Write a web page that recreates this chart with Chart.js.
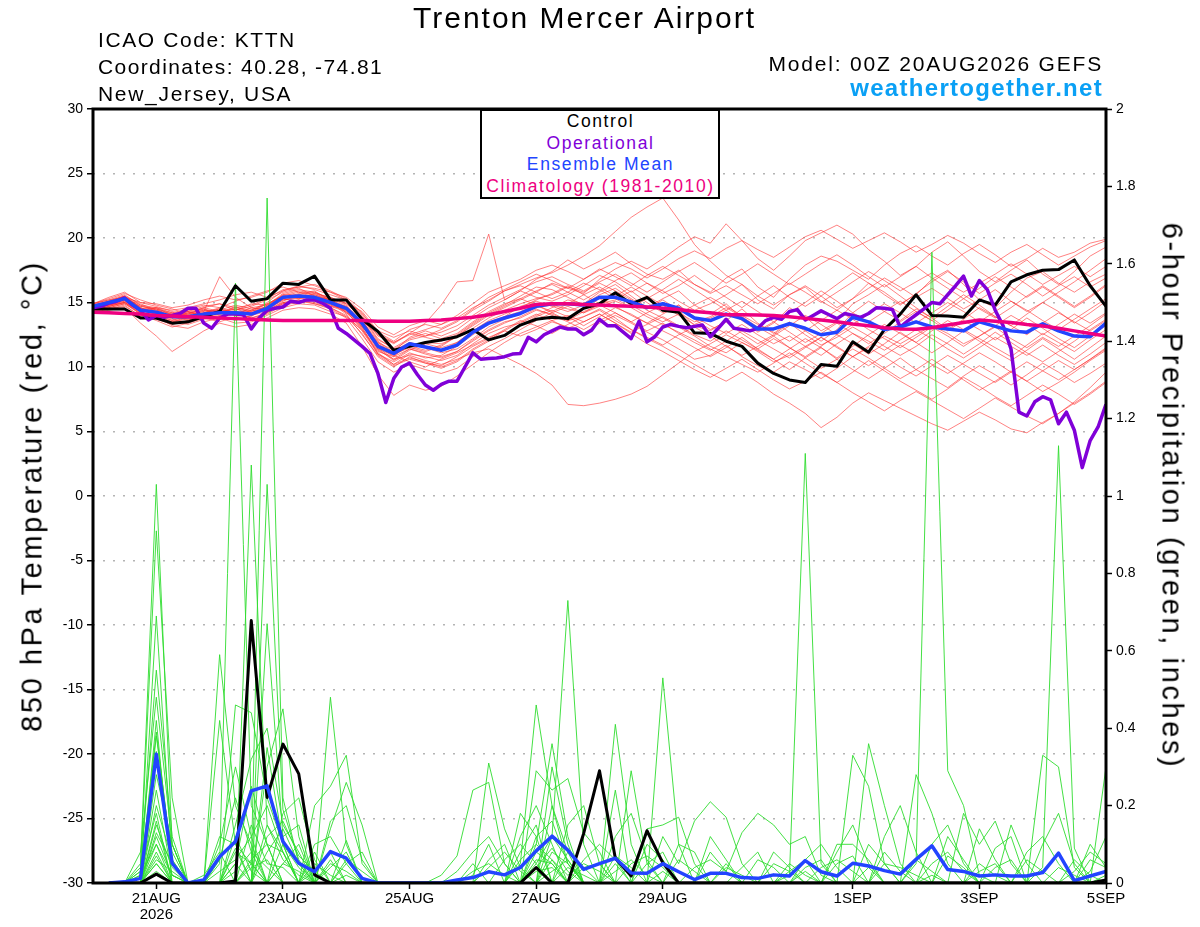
<!DOCTYPE html>
<html>
<head>
<meta charset="utf-8">
<title>Trenton Mercer Airport - GEFS plume</title>
<script src="https://cdn.jsdelivr.net/npm/chart.js@4.4.1/dist/chart.umd.min.js"></script>
<style>
  html, body { margin: 0; padding: 0; background: #fff; }
  body { position: relative; width: 1200px; height: 927px; overflow: hidden; color: #000;
         font-family: "Liberation Sans", Arial, Helvetica, sans-serif; }
  #plumeChart { position: absolute; left: 0; top: 0; }
  .txt { position: absolute; white-space: nowrap; line-height: 1; }
  .legend-box { position: absolute; left: 480px; top: 109px; width: 240px; height: 90px; box-sizing: border-box;
                border: 2px solid #000; background: #fff; text-align: center; font-size: 17.5px;
                letter-spacing: 1.6px; line-height: 21.7px; padding-left: 1px; }
  .axis-title { position: absolute; white-space: nowrap; font-size: 29px; line-height: 29px; letter-spacing: 2.6px; }
</style>
</head>
<body>
<canvas id="plumeChart" width="1200" height="927"></canvas>

<div class="txt" style="left:413px;top:3px;font-size:30px;letter-spacing:2px">Trenton Mercer Airport</div>
<div class="txt" style="left:98px;top:29px;font-size:21px;letter-spacing:1.6px">ICAO Code: KTTN</div>
<div class="txt" style="left:98px;top:56px;font-size:21px;letter-spacing:1.4px">Coordinates: 40.28, -74.81</div>
<div class="txt" style="left:98px;top:83px;font-size:21px;letter-spacing:1.7px">New_Jersey, USA</div>
<div class="txt" style="right:97px;top:53px;font-size:21px;letter-spacing:1.8px">Model: 00Z 20AUG2026 GEFS</div>
<div class="txt" style="right:97px;top:76px;font-size:24px;font-weight:bold;letter-spacing:1.3px;color:#0aa0f5">weathertogether.net</div>

<div class="legend-box">
  <div style="color:#000">Control</div>
  <div style="color:#8000d8">Operational</div>
  <div style="color:#2244ff">Ensemble Mean</div>
  <div style="color:#ee0080">Climatology (1981-2010)</div>
</div>

<div class="axis-title" style="left:32px;top:496px;transform:translate(-50%,-50%) rotate(-90deg)">850 hPa Temperature (red, °C)</div>
<div class="axis-title" style="left:1172px;top:496px;transform:translate(-50%,-50%) rotate(90deg)">6-hour Precipitation (green, inches)</div>

<script>
// x axis: hours since 00Z 20AUG2026, ticks every 2 days (no 31AUG label)
var xTickHours = [24, 72, 120, 168, 216, 288, 336, 384];
var xTickLabels = [["21AUG", "2026"], "23AUG", "25AUG", "27AUG", "29AUG", "1SEP", "3SEP", "5SEP"];

// 850 hPa temperature (C), 6-hourly
var tempControl = [
  14.5, 14.5, 14.5, 13.8, 13.8, 13.4, 13.5, 13.9, 14.3, 16.3, 15.1, 15.3, 16.5,
  16.4, 17.05, 15.2, 15.2, 13.7, 12.75, 11.3, 11.6, 11.9, 12.1, 12.35, 12.9, 12.1,
  12.45, 13.25, 13.7, 13.85, 13.75, 14.55, 14.9, 15.75, 14.9, 15.4, 14.4, 14.25, 12.65,
  12.6, 12.0, 11.6, 10.3, 9.5, 9.0, 8.8, 10.2, 10.05, 11.95, 11.15, 12.9, 14.1,
  15.6, 14.0, 13.95, 13.85, 15.2, 14.8, 16.6, 17.15, 17.5, 17.55, 18.3, 16.3, 14.7
];
var tempMean = [
  14.7, 15.0, 15.3, 14.4, 14.25, 13.9, 13.9, 14.1, 14.2, 14.2, 14.1, 14.55, 15.4,
  15.5, 15.4, 15.0, 14.55, 13.4, 11.6, 11.05, 11.8, 11.55, 11.3, 11.7, 12.7, 13.4,
  13.8, 14.15, 14.7, 14.9, 14.9, 14.8, 15.4, 15.4, 15.05, 14.6, 14.9, 14.55, 13.8,
  13.6, 14.1, 13.75, 12.95, 12.95, 13.35, 13.0, 12.5, 12.7, 13.85, 13.5, 12.9, 13.1,
  13.5, 13.1, 12.95, 12.8, 13.5, 13.15, 12.8, 12.7, 13.35, 12.8, 12.4, 12.35, 13.4
];
var tempClimo = [
  14.25, 14.2, 14.15, 14.1, 14.0, 13.95, 13.9, 13.85, 13.8, 13.75, 13.7, 13.65, 13.6,
  13.6, 13.6, 13.6, 13.6, 13.6, 13.55, 13.55, 13.55, 13.6, 13.65, 13.75, 13.85, 14.05,
  14.3, 14.55, 14.85, 14.9, 14.9, 14.85, 14.8, 14.75, 14.7, 14.65, 14.55, 14.45, 14.3,
  14.2, 14.05, 14.05, 14.03, 14.0, 13.9, 13.77, 13.65, 13.5, 13.33, 13.2, 13.05, 12.95,
  12.92, 13.05, 13.25, 13.45, 13.64, 13.55, 13.45, 13.3, 13.18, 13.0, 12.8, 12.6, 12.4
];
// operational run is 3-hourly
var tempOperational = [
  14.6, 14.7, 14.95, 15.1, 15.35, 14.8, 14.4, 13.65, 14.0, 13.85,
  14.0, 14.15, 14.55, 14.55, 13.4, 13.0, 13.8, 14.1, 14.1, 14.05,
  12.95, 13.8, 14.4, 14.55, 14.65, 15.1, 15.0, 15.2, 15.2, 14.95,
  14.55, 13.0, 12.6, 12.1, 11.6, 11.05, 9.5, 7.25, 9.1, 10.0,
  10.3, 9.4, 8.6, 8.2, 8.65, 8.9, 8.9, 10.0, 11.1, 10.6,
  10.65, 10.7, 10.8, 11.0, 11.05, 12.3, 11.95, 12.5, 12.8, 13.1,
  12.95, 12.95, 12.5, 12.85, 13.7, 13.2, 13.2, 12.7, 12.2, 13.55,
  11.95, 12.35, 13.1, 13.3, 13.15, 13.05, 13.15, 13.25, 12.35, 13.0,
  13.7, 13.0, 12.9, 12.8, 13.0, 13.6, 13.85, 13.7, 14.3, 14.45,
  13.65, 14.0, 14.35, 14.05, 13.75, 14.15, 14.0, 13.85, 14.15, 14.6,
  14.55, 14.45, 13.1, 13.6, 14.05, 14.5, 15.0, 14.9, 15.6, 16.3,
  17.05, 15.5, 16.7, 16.0, 14.4, 13.2, 11.4, 6.5, 6.2, 7.3,
  7.7, 7.45, 5.6, 6.5, 5.1, 2.2, 4.3, 5.35, 7.1
];

// ensemble members, temperature
var tempMember01 = [
  14.9, 15.2, 15.6, 14.8, 14.6, 14.2, 14.5, 14.8, 14.6, 15.1, 15.5, 15.9, 16.2,
  15.8, 15.6, 15.1, 14.2, 13.6, 12.5, 11.8, 12.6, 13.4, 14.8, 16.6, 16.7, 20.3,
  15.2, 15.9, 16.8, 17.4, 18.3, 17.6, 18.2, 18.9, 18.0, 17.2, 16.8, 17.5, 16.4,
  15.8, 16.9, 17.6, 16.2, 15.4, 16.8, 17.9, 18.6, 18.2, 17.5, 16.8, 17.9, 18.8,
  19.4, 18.6, 17.9, 18.8, 19.5, 18.7, 17.8, 18.4, 19.2, 18.5, 18.9, 19.6, 19.9
];
var tempMember02 = [
  14.5, 14.9, 15.4, 14.6, 14.1, 14.0, 13.6, 14.2, 14.5, 14.0, 13.9, 14.8, 15.6,
  15.9, 15.7, 15.4, 14.9, 13.9, 12.2, 11.4, 12.1, 12.4, 12.9, 13.5, 14.4, 15.1,
  15.9, 16.4, 16.9, 17.3, 17.9, 18.6, 19.4, 20.5, 21.6, 22.4, 23.1, 21.4, 19.5,
  18.2, 17.1, 16.4, 15.2, 14.5, 15.6, 16.2, 15.1, 14.4, 15.3, 16.5, 15.8, 14.9,
  15.6, 16.8, 17.5, 16.4, 15.2, 14.6, 15.8, 16.9, 17.4, 16.5, 15.8, 16.6, 17.2
];
var tempMember03 = [
  14.6, 14.8, 15.1, 14.3, 14.5, 13.8, 14.1, 14.6, 14.9, 14.4, 14.7, 15.2, 15.8,
  16.1, 15.5, 15.2, 14.6, 13.1, 11.9, 11.0, 11.5, 11.2, 11.6, 12.4, 13.2, 14.0,
  14.6, 15.2, 15.8, 16.5, 16.1, 15.7, 16.8, 17.6, 18.2, 17.6, 18.4, 19.3, 20.1,
  19.6, 21.1, 19.8, 18.4, 17.5, 18.6, 19.8, 20.4, 21.0, 20.3, 19.1, 18.2, 17.1,
  17.8, 18.9, 19.7, 18.6, 17.4, 16.6, 17.5, 18.3, 17.2, 16.4, 17.4, 18.6, 19.3
];
var tempMember04 = [
  14.3, 14.6, 14.9, 14.1, 13.6, 13.1, 13.4, 13.8, 13.5, 13.9, 14.2, 14.4, 15.0,
  15.1, 15.3, 14.8, 14.5, 13.2, 11.5, 10.6, 10.9, 10.5, 10.2, 10.6, 11.1, 11.4,
  10.8, 10.2, 9.5, 8.6, 7.1, 7.0, 7.2, 7.5, 7.9, 8.5, 9.4, 10.3, 11.2,
  11.8, 12.5, 11.9, 11.2, 10.4, 10.9, 11.6, 12.3, 11.5, 10.8, 11.6, 12.4, 11.8,
  12.5, 13.2, 12.6, 11.8, 12.4, 13.1, 12.2, 11.5, 12.3, 11.6, 12.4, 13.2, 14.1
];
var tempMember05 = [
  14.8, 15.1, 15.5, 14.6, 14.2, 13.7, 13.5, 13.9, 14.1, 14.3, 14.0, 14.3, 15.1,
  15.6, 15.8, 15.3, 14.8, 13.3, 11.4, 10.5, 11.3, 11.8, 11.5, 11.9, 12.8, 13.5,
  13.9, 14.3, 14.8, 14.2, 13.6, 13.9, 14.5, 13.8, 12.9, 12.2, 11.6, 10.9, 10.2,
  9.5, 8.9, 9.6, 8.8, 7.9, 7.2, 6.4, 5.3, 6.1, 7.2, 8.0, 7.4, 6.8,
  6.2, 5.6, 5.1, 5.8, 6.5, 5.9, 5.2, 4.9, 5.7, 6.4, 7.3, 8.4, 9.6
];
var tempMember06 = [
  14.9, 15.4, 15.8, 15.0, 14.7, 14.3, 14.0, 14.4, 14.2, 14.6, 14.4, 15.0, 15.9,
  16.3, 16.0, 15.6, 15.2, 14.0, 12.4, 11.9, 12.6, 12.3, 12.0, 12.5, 13.4, 14.2,
  14.8, 15.5, 16.2, 16.0, 15.4, 14.8, 15.6, 16.1, 15.3, 14.5, 15.2, 14.4, 13.2,
  12.8, 13.6, 14.5, 13.4, 12.6, 13.5, 12.8, 12.0, 12.9, 14.2, 15.1, 14.3, 13.6,
  14.5, 13.8, 12.9, 13.7, 14.6, 13.9, 13.2, 12.5, 13.4, 14.2, 13.5, 12.8, 13.6
];
var tempMember07 = [
  14.4, 14.7, 15.0, 14.2, 14.0, 13.5, 13.8, 14.0, 13.7, 13.8, 13.6, 14.2, 14.9,
  15.2, 15.0, 14.6, 14.0, 12.8, 11.0, 10.2, 11.0, 10.8, 10.5, 10.9, 11.8, 12.6,
  13.1, 13.4, 14.0, 14.6, 15.2, 14.9, 15.8, 16.4, 15.5, 14.6, 15.3, 15.9, 14.8,
  14.1, 14.9, 13.8, 12.7, 13.4, 14.6, 13.9, 12.8, 13.5, 14.9, 15.6, 16.4, 15.5,
  14.6, 13.8, 14.7, 15.6, 14.8, 13.9, 13.2, 14.1, 15.0, 14.3, 13.4, 14.2, 15.1
];
var tempMember08 = [
  14.6, 14.9, 15.2, 14.5, 14.4, 14.1, 14.3, 13.9, 14.4, 14.8, 14.5, 14.6, 15.3,
  15.7, 15.9, 15.1, 14.3, 12.9, 11.2, 10.8, 11.9, 11.5, 11.1, 11.4, 12.2, 13.1,
  13.7, 14.1, 14.6, 14.8, 14.5, 14.2, 14.9, 15.2, 15.9, 15.0, 14.2, 14.8, 13.9,
  13.2, 12.6, 13.3, 12.5, 11.8, 12.4, 11.6, 10.9, 11.8, 12.6, 12.0, 11.3, 12.1,
  12.9, 12.2, 11.4, 10.7, 11.5, 12.3, 11.6, 10.9, 11.7, 10.9, 10.2, 11.0, 11.9
];
var tempMember09 = [
  14.2, 14.5, 14.8, 13.9, 13.7, 13.3, 13.6, 14.1, 14.0, 13.6, 14.0, 14.5, 15.2,
  15.4, 15.1, 14.7, 14.5, 13.6, 12.0, 11.1, 11.6, 11.9, 11.8, 12.3, 13.0, 13.8,
  14.4, 14.9, 15.3, 15.6, 16.2, 15.8, 16.5, 15.9, 15.2, 14.4, 13.8, 13.1, 12.4,
  11.6, 11.1, 11.9, 11.3, 10.6, 11.4, 12.2, 11.5, 10.7, 11.6, 12.5, 13.3, 12.6,
  11.9, 12.8, 13.6, 12.9, 12.2, 11.5, 10.8, 11.7, 12.6, 11.9, 11.2, 12.1, 12.9
];
var tempMember10 = [
  14.7, 15.0, 15.3, 14.7, 14.5, 14.2, 13.9, 14.2, 14.6, 14.2, 13.8, 14.1, 14.8,
  15.0, 15.2, 14.9, 14.6, 13.5, 11.8, 10.9, 10.4, 10.0, 10.6, 11.1, 11.7, 12.3,
  12.8, 12.4, 12.9, 13.5, 13.1, 12.6, 13.4, 14.0, 13.4, 12.7, 12.1, 11.4, 10.6,
  10.9, 11.7, 10.8, 10.1, 9.6, 10.4, 9.8, 9.1, 9.9, 10.8, 11.5, 10.8, 10.0,
  9.3, 10.1, 10.9, 10.2, 9.5, 8.8, 9.6, 10.4, 9.7, 9.0, 9.8, 10.6, 11.5
];
var tempMember11 = [
  14.5, 14.8, 15.1, 14.4, 14.1, 13.9, 14.2, 14.6, 14.3, 14.5, 14.3, 14.9, 15.5,
  15.3, 15.5, 15.0, 14.7, 13.7, 11.7, 11.2, 12.3, 12.8, 12.4, 12.9, 13.8, 14.6,
  15.2, 15.9, 15.4, 15.1, 15.6, 16.3, 17.1, 16.6, 15.8, 16.5, 15.9, 15.1, 14.4,
  14.9, 15.6, 16.4, 15.5, 14.8, 15.6, 16.3, 15.5, 14.6, 15.3, 16.1, 16.9, 16.2,
  15.4, 16.1, 15.3, 14.5, 15.2, 16.0, 15.1, 14.3, 15.0, 15.8, 16.6, 17.5, 18.4
];
var tempMember12 = [
  14.8, 15.1, 15.5, 14.4, 14.6, 14.0, 13.7, 14.0, 14.2, 14.7, 14.2, 14.7, 15.6,
  15.6, 15.3, 14.8, 14.4, 13.0, 11.3, 10.6, 11.4, 11.1, 10.8, 11.2, 12.1, 12.9,
  13.5, 13.8, 14.4, 14.1, 13.6, 14.3, 14.8, 14.2, 13.5, 14.2, 14.8, 14.0, 13.3,
  13.8, 14.4, 13.6, 12.8, 13.5, 12.7, 11.9, 12.6, 13.4, 12.6, 11.8, 12.6, 13.5,
  14.3, 13.6, 12.8, 13.6, 12.9, 12.1, 12.9, 13.8, 13.0, 12.2, 11.5, 12.4, 13.2
];
var tempMember13 = [
  14.4, 14.6, 14.9, 14.2, 13.9, 13.2, 13.0, 13.5, 13.8, 13.4, 13.5, 14.0, 14.6,
  14.9, 14.8, 14.3, 13.9, 12.6, 10.8, 10.0, 10.8, 10.3, 9.9, 10.4, 11.3, 12.0,
  12.5, 13.2, 13.9, 14.4, 13.9, 13.2, 13.9, 14.6, 14.1, 13.4, 12.8, 12.2, 11.5,
  10.8, 11.5, 12.3, 11.4, 10.6, 9.8, 10.7, 11.5, 10.6, 9.8, 9.1, 9.9, 10.7,
  9.8, 9.1, 8.4, 9.3, 10.1, 9.4, 8.6, 9.4, 10.3, 9.6, 8.8, 9.5, 10.3
];
var tempMember14 = [
  14.6, 15.0, 15.4, 14.8, 14.3, 13.9, 14.3, 14.0, 14.4, 14.1, 14.6, 14.4, 15.2,
  15.3, 15.6, 15.2, 14.2, 13.1, 11.0, 10.4, 11.1, 10.7, 10.9, 11.6, 12.5, 13.3,
  13.9, 14.7, 15.1, 14.7, 14.3, 14.8, 15.3, 14.7, 14.0, 13.4, 14.1, 14.8, 13.7,
  12.9, 13.5, 12.6, 11.8, 12.5, 13.4, 12.5, 11.7, 12.3, 13.1, 12.4, 11.6, 10.9,
  11.6, 12.5, 11.8, 11.0, 11.8, 12.7, 11.9, 11.1, 10.4, 11.2, 12.0, 12.9, 13.7
];
var tempMember15 = [
  14.5, 14.7, 15.0, 14.3, 14.2, 13.6, 14.0, 14.3, 14.1, 14.4, 14.9, 14.8, 15.5,
  15.8, 15.4, 15.0, 14.1, 12.5, 10.9, 10.1, 10.6, 10.3, 10.1, 10.8, 11.6, 12.2,
  12.9, 13.6, 13.2, 12.6, 13.3, 13.9, 14.4, 13.6, 12.9, 12.3, 11.7, 12.5, 13.1,
  12.4, 11.6, 10.9, 11.6, 12.4, 11.5, 10.7, 9.9, 10.6, 11.4, 10.7, 9.9, 9.1,
  9.8, 10.6, 9.8, 9.0, 8.2, 8.9, 9.7, 8.9, 8.1, 8.8, 9.6, 10.5, 11.3
];
var tempMember16 = [
  14.7, 14.9, 15.3, 14.6, 14.0, 13.8, 14.4, 14.5, 14.0, 14.3, 14.1, 14.6, 15.4,
  15.5, 15.2, 15.4, 14.9, 13.8, 12.1, 11.5, 12.2, 12.6, 12.2, 12.6, 13.5, 14.3,
  14.9, 15.3, 15.9, 16.4, 15.8, 15.2, 15.9, 16.7, 17.3, 16.5, 15.7, 16.3, 17.1,
  16.2, 15.4, 14.6, 15.5, 16.3, 15.4, 14.7, 15.5, 16.4, 17.3, 16.5, 15.6, 14.8,
  15.7, 16.6, 17.4, 16.6, 15.7, 16.5, 17.2, 16.4, 15.5, 16.3, 17.0, 16.2, 16.9
];
var tempMember17 = [
  14.3, 14.5, 14.7, 14.0, 13.8, 13.5, 13.9, 14.2, 14.5, 14.2, 14.4, 14.3, 14.9,
  15.1, 14.9, 14.5, 13.8, 12.2, 10.4, 9.6, 10.2, 9.8, 9.5, 9.9, 10.8, 11.6,
  12.2, 12.9, 13.6, 14.2, 14.7, 14.2, 14.7, 15.1, 14.6, 13.9, 13.3, 12.7, 12.1,
  11.4, 10.8, 10.2, 9.6, 10.3, 11.1, 10.3, 9.5, 8.8, 9.6, 10.5, 9.7, 8.9,
  8.2, 7.5, 8.3, 9.2, 8.5, 7.7, 7.0, 7.8, 8.6, 7.9, 7.1, 7.9, 8.8
];
var tempMember18 = [
  14.9, 15.3, 15.7, 15.2, 14.8, 14.5, 14.1, 14.3, 17.0, 15.4, 14.6, 14.8, 15.7,
  16.0, 15.8, 15.3, 15.0, 14.3, 12.8, 12.3, 12.8, 12.4, 12.7, 13.2, 14.0, 14.8,
  15.4, 16.0, 16.6, 17.0, 16.4, 15.9, 16.6, 17.2, 16.5, 15.8, 16.6, 17.4, 18.1,
  17.3, 16.5, 17.2, 18.0, 17.2, 16.4, 17.2, 18.0, 18.7, 17.9, 17.0, 16.2, 17.0,
  17.8, 16.9, 16.1, 15.3, 16.1, 17.0, 16.2, 15.4, 16.2, 15.4, 14.6, 15.4, 16.3
];
var tempMember19 = [
  14.2, 14.4, 14.6, 13.4, 12.4, 11.2, 12.0, 12.8, 13.4, 13.1, 13.3, 13.8, 14.4,
  14.6, 14.5, 14.1, 13.4, 11.6, 9.4, 7.8, 8.6, 8.2, 8.5, 9.3, 10.2, 11.1,
  11.9, 12.6, 13.1, 13.6, 14.0, 13.5, 14.1, 13.4, 12.7, 13.3, 13.9, 13.2, 12.5,
  12.0, 12.8, 12.1, 11.4, 12.2, 11.5, 10.8, 11.6, 12.5, 11.8, 11.0, 11.8, 12.7,
  11.9, 11.1, 11.9, 12.8, 12.0, 11.2, 10.5, 11.3, 12.2, 11.4, 10.6, 11.5, 12.4
];
var tempMember20 = [
  14.6, 14.8, 15.2, 14.5, 14.6, 14.4, 14.6, 14.9, 15.2, 15.6, 15.8, 15.4, 15.9,
  16.2, 16.1, 15.8, 15.4, 14.5, 13.1, 12.5, 13.2, 13.6, 13.3, 13.8, 14.6, 15.2,
  15.9, 16.3, 15.8, 15.3, 15.8, 16.5, 16.0, 15.3, 14.6, 15.3, 16.0, 16.8, 16.0,
  15.2, 14.4, 15.1, 14.3, 13.5, 14.2, 15.0, 15.9, 15.1, 14.2, 13.5, 14.3, 15.1,
  14.3, 13.6, 14.4, 15.3, 14.5, 13.8, 14.6, 15.5, 16.3, 15.5, 14.7, 15.5, 16.4
];
var tempMember21 = [
  14.8, 15.0, 15.4, 14.7, 14.5, 14.1, 14.3, 14.7, 14.9, 14.6, 14.8, 15.3, 16.0,
  16.2, 16.4, 15.9, 15.3, 14.2, 12.6, 11.9, 12.5, 12.9, 13.3, 14.0, 14.9, 15.8,
  16.3, 16.8, 17.5, 17.9, 17.4, 16.8, 17.5, 18.1, 17.6, 16.9, 17.6, 18.4, 19.0,
  18.4, 19.2, 19.8, 19.1, 18.5, 19.3, 20.1, 20.6, 19.9, 19.2, 19.8, 20.4, 19.7,
  18.9, 19.5, 20.2, 19.6, 18.8, 18.1, 18.9, 19.5, 18.7, 17.9, 18.6, 19.3, 19.8
];
var tempMember22 = [
  14.4, 14.7, 15.0, 14.1, 14.0, 13.6, 13.3, 13.7, 13.9, 14.1, 13.8, 14.2, 15.0,
  15.2, 14.9, 14.6, 13.9, 12.9, 11.1, 10.2, 10.7, 10.4, 10.0, 10.5, 11.4, 12.1,
  12.8, 13.5, 14.1, 13.6, 13.0, 13.5, 14.1, 13.4, 12.6, 11.8, 11.2, 10.5, 9.8,
  9.2, 9.9, 10.6, 9.8, 9.0, 8.3, 8.9, 9.6, 8.8, 8.0, 7.3, 6.6, 7.4,
  8.1, 7.4, 6.7, 6.0, 6.8, 7.6, 6.9, 6.2, 5.6, 6.4, 7.2, 8.0, 8.9
];
var tempMember23 = [
  14.7, 15.1, 15.5, 14.9, 14.4, 14.0, 14.2, 14.4, 14.3, 14.0, 14.4, 14.9, 15.5,
  15.4, 15.7, 15.2, 14.7, 13.5, 11.9, 11.3, 11.9, 11.6, 11.3, 11.9, 12.8, 13.6,
  14.1, 14.6, 15.2, 15.7, 16.3, 15.6, 14.9, 15.5, 16.2, 15.5, 14.8, 14.2, 13.5,
  13.9, 14.6, 13.9, 13.1, 12.4, 13.2, 14.0, 13.3, 12.5, 13.3, 14.1, 14.9, 14.2,
  13.4, 14.2, 15.0, 14.3, 13.5, 14.3, 15.1, 14.4, 13.6, 12.9, 13.7, 14.5, 15.3
];
var tempMember24 = [
  14.5, 14.8, 15.0, 14.4, 14.3, 13.8, 13.7, 14.1, 14.4, 14.0, 14.3, 14.7, 15.3,
  15.0, 15.3, 14.7, 14.3, 13.3, 11.6, 10.8, 11.4, 11.0, 10.7, 11.2, 12.0, 12.8,
  13.4, 13.9, 14.5, 14.0, 13.5, 12.9, 13.6, 14.2, 13.5, 12.8, 13.4, 12.6, 11.9,
  11.3, 12.0, 12.8, 12.1, 11.4, 10.7, 11.5, 12.3, 11.6, 10.8, 10.1, 10.9, 11.7,
  11.0, 10.2, 9.5, 10.3, 11.1, 10.4, 9.6, 8.9, 9.7, 10.5, 9.8, 10.6, 11.4
];
var tempMember25 = [
  14.9, 15.2, 15.4, 15.0, 14.9, 14.6, 14.8, 15.2, 15.5, 15.2, 15.4, 15.8, 16.5,
  16.7, 16.3, 15.8, 15.2, 14.1, 12.7, 12.0, 12.9, 13.3, 13.0, 13.6, 14.5, 15.4,
  16.0, 16.6, 17.2, 16.7, 16.1, 16.8, 17.6, 17.0, 16.3, 17.1, 17.8, 17.1, 16.4,
  15.7, 16.3, 15.6, 14.9, 15.7, 16.5, 15.8, 15.0, 15.8, 16.6, 17.4, 16.7, 15.9,
  16.6, 17.3, 16.5, 15.8, 16.5, 17.2, 18.0, 17.2, 16.4, 17.1, 17.8, 17.0, 17.8
];
var tempMember26 = [
  14.6, 14.9, 15.2, 14.5, 14.2, 14.0, 14.1, 14.5, 14.2, 14.5, 14.1, 14.6, 15.3,
  15.5, 15.2, 14.9, 14.4, 13.2, 11.4, 10.9, 11.6, 11.3, 11.7, 12.4, 13.3, 14.1,
  14.7, 15.3, 14.8, 14.3, 14.9, 15.6, 16.2, 15.5, 14.8, 14.1, 13.5, 14.1, 14.8,
  15.4, 14.7, 14.0, 13.3, 12.7, 12.0, 12.8, 13.6, 14.4, 13.7, 12.9, 12.2, 11.5,
  12.3, 13.1, 12.4, 11.6, 12.4, 13.2, 14.0, 13.3, 12.5, 13.3, 14.1, 13.4, 14.2
];

// 6-hour precipitation (inches); nothing at the initial time
var precipControl = [
  null, 0, 0, 0, 0.023, 0, 0, 0, 0, 0.005, 0.678, 0.221, 0.359,
  0.282, 0.021, 0, 0, 0, 0, 0, 0, 0, 0, 0, 0, 0,
  0, 0, 0.04, 0, 0, 0.128, 0.29, 0.064, 0.018, 0.135, 0.052, 0, 0,
  0, 0, 0, 0, 0, 0, 0, 0, 0, 0, 0, 0, 0,
  0, 0, 0, 0, 0, 0, 0, 0, 0, 0, 0, 0, 0.008
];
var precipMean = [
  null, 0, 0.003, 0.012, 0.333, 0.051, 0, 0.008, 0.068, 0.107, 0.238, 0.251, 0.107,
  0.051, 0.029, 0.081, 0.064, 0.012, 0, 0, 0, 0, 0, 0.008, 0.014, 0.029,
  0.021, 0.04, 0.083, 0.121, 0.085, 0.035, 0.05, 0.064, 0.026, 0.025, 0.05, 0.029, 0.009,
  0.025, 0.025, 0.014, 0.012, 0.021, 0.018, 0.058, 0.029, 0.018, 0.051, 0.044, 0.032, 0.023,
  0.061, 0.096, 0.035, 0.03, 0.018, 0.021, 0.018, 0.018, 0.027, 0.077, 0.006, 0.018, 0.03
];
var precipMember01 = [
  null, 0, 0, 0.05, 1.03, 0.1, 0, 0, 0, 0, 0.05, 1.77, 0.22,
  0.05, 0, 0, 0, 0, 0, 0, 0, 0, 0, 0, 0, 0,
  0, 0, 0.1, 0.36, 0.12, 0, 0, 0, 0, 0, 0, 0, 0,
  0, 0.05, 0, 0, 0, 0, 0.03, 0, 0, 0, 0, 0, 0,
  0, 0.02, 0, 0, 0, 0, 0, 0, 0, 0, 0, 0, 0
];
var precipMember02 = [
  null, 0, 0, 0.04, 0.91, 0.22, 0, 0, 0.05, 1.55, 0.2, 0.1, 0,
  0, 0, 0.06, 0, 0, 0, 0, 0, 0, 0, 0, 0.02, 0.1,
  0, 0, 0, 0.12, 0.73, 0.1, 0, 0, 0, 0, 0, 0, 0,
  0, 0, 0, 0, 0, 0.02, 1.11, 0.05, 0, 0, 0.04, 0, 0,
  0, 0, 0, 0, 0, 0, 0, 0, 0, 0, 0, 0, 0
];
var precipMember03 = [
  null, 0, 0, 0, 0.69, 0.05, 0, 0, 0, 0, 1.08, 0.15, 0.08,
  0, 0, 0, 0.02, 0, 0, 0, 0, 0, 0, 0, 0, 0,
  0, 0.05, 0.46, 0.2, 0.05, 0, 0, 0, 0, 0, 0.03, 0, 0,
  0, 0, 0, 0, 0, 0, 0, 0, 0, 0, 0, 0, 0,
  0.05, 1.63, 0.29, 0.2, 0.02, 0, 0, 0, 0, 0, 0, 0, 0
];
var precipMember04 = [
  null, 0, 0, 0.08, 0.48, 0.1, 0, 0, 0, 0, 0, 1.03, 0.19,
  0.06, 0, 0.48, 0.1, 0, 0, 0, 0, 0, 0, 0, 0, 0,
  0, 0, 0, 0, 0, 0, 0, 0.05, 0, 0, 0.53, 0.1, 0,
  0, 0, 0, 0, 0, 0, 0, 0, 0, 0, 0, 0, 0,
  0, 0, 0, 0, 0, 0, 0, 0, 0.04, 1.13, 0.09, 0, 0
];
var precipMember05 = [
  null, 0, 0, 0, 0.42, 0, 0, 0, 0.59, 0.2, 0.1, 0, 0,
  0, 0.2, 0.25, 0.33, 0.05, 0, 0, 0, 0, 0, 0, 0, 0.31,
  0.14, 0.04, 0, 0, 0, 0, 0, 0.41, 0.1, 0, 0, 0, 0,
  0, 0, 0, 0, 0, 0, 0, 0, 0, 0.33, 0.25, 0.05, 0,
  0, 0, 0, 0, 0, 0, 0, 0, 0, 0, 0, 0, 0
];
var precipMember06 = [
  null, 0, 0, 0.02, 0.39, 0.05, 0, 0, 0, 0.46, 0.44, 0.22, 0.1,
  0, 0, 0, 0, 0, 0, 0, 0, 0, 0.02, 0.07, 0.24, 0.26,
  0.05, 0, 0, 0.3, 0.1, 0, 0, 0, 0, 0, 0, 0, 0,
  0, 0, 0, 0, 0, 0, 0, 0, 0, 0, 0.36, 0.2, 0.05,
  0, 0, 0, 0, 0, 0, 0, 0, 0, 0, 0, 0, 0.3
];
var precipMember07 = [
  null, 0, 0, 0, 0.34, 0.08, 0, 0, 0.42, 0.1, 0, 0.67, 0.12,
  0.15, 0, 0.14, 0.26, 0.15, 0, 0, 0, 0, 0, 0, 0, 0,
  0, 0, 0.29, 0.24, 0.27, 0.13, 0.08, 0, 0.29, 0.05, 0, 0, 0,
  0, 0, 0, 0, 0, 0, 0, 0, 0, 0, 0, 0, 0,
  0, 0, 0, 0, 0, 0, 0.15, 0.05, 0, 0, 0, 0, 0
];
var precipMember08 = [
  null, 0, 0, 0, 0.24, 0.02, 0, 0, 0, 0.05, 0.25, 0.1, 0.08,
  0, 0.08, 0, 0, 0, 0, 0, 0, 0, 0, 0, 0, 0,
  0, 0.18, 0.12, 0, 0, 0, 0, 0.24, 0, 0.14, 0.15, 0.17, 0.05,
  0, 0, 0, 0, 0, 0, 0, 0, 0, 0, 0, 0, 0,
  0.28, 0.18, 0.05, 0, 0, 0, 0, 0, 0, 0, 0, 0, 0
];
var precipMember09 = [
  null, 0, 0, 0.03, 0.18, 0, 0, 0, 0, 0.05, 0, 0, 0.05,
  0.1, 0, 0, 0.11, 0, 0, 0, 0, 0, 0, 0, 0, 0,
  0, 0, 0, 0.08, 0.05, 0, 0, 0, 0, 0, 0.12, 0.05, 0.16,
  0.21, 0.17, 0.05, 0, 0, 0, 0, 0, 0, 0, 0, 0, 0,
  0, 0, 0, 0, 0, 0, 0, 0, 0.33, 0.3, 0.04, 0, 0
];
var precipMember10 = [
  null, 0, 0, 0, 0.12, 0.02, 0, 0, 0, 0, 0.15, 0.05, 0.04,
  0, 0, 0, 0, 0, 0, 0, 0, 0, 0, 0, 0, 0,
  0, 0, 0.06, 0.05, 0, 0, 0, 0, 0, 0, 0, 0, 0,
  0.08, 0.03, 0.13, 0.18, 0.15, 0.1, 0.12, 0.02, 0, 0, 0, 0, 0,
  0, 0, 0, 0.18, 0.1, 0.16, 0.05, 0, 0, 0, 0, 0, 0
];
var precipMember11 = [
  null, 0, 0, 0, 0.08, 0, 0, 0, 0.12, 0.1, 0.05, 0, 0,
  0, 0, 0.05, 0.03, 0, 0, 0, 0, 0, 0, 0, 0.05, 0,
  0.06, 0.1, 0.05, 0, 0, 0.04, 0.05, 0, 0, 0, 0, 0, 0,
  0, 0, 0, 0.06, 0.04, 0, 0, 0, 0.1, 0.1, 0.06, 0, 0,
  0, 0, 0, 0, 0, 0, 0, 0, 0, 0, 0, 0.03, 0.12
];
var precipMember12 = [
  null, 0, 0, 0, 0.05, 0, 0, 0.02, 0.08, 0, 0, 0.15, 0.06,
  0.02, 0, 0, 0, 0, 0, 0, 0, 0, 0, 0, 0, 0,
  0, 0, 0, 0.03, 0.06, 0, 0, 0.07, 0.04, 0, 0, 0, 0,
  0, 0, 0, 0, 0, 0.05, 0.02, 0, 0, 0, 0, 0.08, 0.03,
  0, 0, 0, 0, 0, 0.04, 0.06, 0, 0, 0, 0, 0, 0
];
var precipMember13 = [
  null, 0, 0, 0, 0.02, 0, 0, 0, 0, 0.03, 0.08, 0.04, 0,
  0, 0.03, 0.08, 0, 0, 0, 0, 0, 0, 0, 0, 0, 0,
  0, 0, 0.03, 0.04, 0, 0, 0, 0, 0, 0.05, 0.08, 0, 0,
  0, 0, 0, 0, 0, 0, 0, 0, 0, 0, 0, 0, 0,
  0, 0.05, 0.08, 0.03, 0, 0, 0, 0, 0, 0.04, 0.02, 0, 0
];
var precipMember14 = [
  null, 0, 0, 0.02, 0.1, 0.02, 0, 0, 0, 0, 0, 0, 0.05,
  0.03, 0, 0, 0, 0, 0, 0, 0, 0, 0, 0, 0.03, 0.05,
  0.02, 0, 0, 0, 0.04, 0.02, 0, 0, 0, 0, 0, 0, 0,
  0, 0, 0, 0, 0, 0, 0, 0.04, 0.06, 0.03, 0, 0, 0,
  0, 0, 0, 0, 0.05, 0.02, 0, 0, 0, 0, 0, 0.06, 0.04
];
var precipMember15 = [
  null, 0, 0, 0, 0.06, 0.03, 0, 0, 0, 0.08, 0.05, 0, 0,
  0, 0, 0, 0.06, 0.03, 0, 0, 0, 0, 0, 0, 0, 0,
  0, 0, 0.08, 0.05, 0, 0, 0, 0, 0, 0, 0, 0, 0.04,
  0.06, 0.03, 0, 0, 0, 0, 0, 0, 0, 0, 0, 0.05, 0.04,
  0.02, 0, 0, 0, 0, 0, 0, 0, 0, 0, 0, 0, 0
];
var precipMember16 = [
  null, 0, 0, 0, 0.15, 0.04, 0, 0, 0, 0, 0, 0.08, 0.14,
  0.05, 0, 0, 0, 0, 0, 0, 0, 0, 0, 0, 0, 0,
  0, 0.06, 0.1, 0.06, 0, 0, 0, 0.03, 0.06, 0.02, 0, 0, 0,
  0, 0, 0, 0, 0, 0.03, 0.06, 0, 0, 0, 0, 0, 0,
  0, 0, 0.07, 0.04, 0, 0, 0, 0, 0, 0, 0, 0, 0
];
var precipMember17 = [
  null, 0, 0, 0, 0.03, 0, 0, 0, 0, 0, 0.04, 0.06, 0,
  0, 0.05, 0.02, 0, 0, 0, 0, 0, 0, 0, 0, 0, 0,
  0, 0, 0, 0.06, 0.02, 0.05, 0.03, 0, 0, 0, 0, 0, 0,
  0, 0.04, 0.02, 0, 0, 0, 0, 0, 0, 0, 0, 0, 0,
  0, 0, 0, 0, 0, 0, 0, 0.06, 0.03, 0, 0, 0, 0.02
];
var precipMember18 = [
  null, 0, 0, 0, 0.2, 0.06, 0, 0, 0, 0.12, 0.03, 0, 0.1,
  0.04, 0, 0, 0, 0, 0, 0, 0, 0, 0, 0, 0, 0.04,
  0.08, 0.03, 0, 0, 0.08, 0.04, 0, 0, 0, 0, 0, 0, 0,
  0, 0, 0, 0, 0.05, 0.03, 0, 0, 0.05, 0.07, 0, 0, 0,
  0, 0, 0, 0, 0, 0, 0, 0, 0, 0, 0.03, 0.08, 0.05
];
var precipMember19 = [
  null, 0, 0, 0, 0.28, 0.1, 0, 0, 0.03, 0.06, 0.12, 0.2, 0.08,
  0, 0, 0.04, 0.08, 0, 0, 0, 0, 0, 0, 0, 0, 0,
  0, 0, 0.12, 0.16, 0.05, 0, 0, 0, 0, 0, 0, 0.06, 0.03,
  0, 0, 0, 0, 0, 0, 0, 0, 0, 0, 0, 0, 0,
  0.06, 0.03, 0, 0, 0, 0, 0, 0, 0, 0, 0, 0, 0
];
var precipMember20 = [
  null, 0, 0, 0, 0.1, 0, 0, 0, 0, 0, 0, 0.12, 0.16,
  0.07, 0.03, 0, 0, 0, 0, 0, 0, 0, 0, 0, 0, 0,
  0, 0, 0.04, 0.09, 0.03, 0, 0, 0, 0.05, 0.07, 0.04, 0, 0,
  0, 0, 0, 0, 0, 0, 0.04, 0.06, 0, 0, 0, 0, 0,
  0, 0, 0, 0, 0.03, 0.05, 0, 0, 0, 0, 0, 0, 0
];
var precipMember21 = [
  null, 0, 0, 0.03, 0.55, 0.12, 0, 0, 0, 0.15, 0.32, 0.4, 0.15,
  0.08, 0, 0, 0, 0, 0, 0, 0, 0, 0, 0, 0, 0,
  0, 0.12, 0.2, 0.1, 0, 0, 0, 0, 0, 0, 0, 0, 0,
  0.12, 0.06, 0, 0, 0, 0, 0, 0, 0.08, 0.15, 0.05, 0, 0,
  0, 0, 0, 0, 0, 0.09, 0.12, 0, 0, 0, 0, 0, 0
];
var precipMember22 = [
  null, 0, 0, 0, 0.16, 0, 0, 0, 0.06, 0.22, 0.08, 0, 0,
  0, 0.1, 0.12, 0.05, 0, 0, 0, 0, 0, 0, 0.03, 0.08, 0.12,
  0.05, 0, 0, 0, 0, 0.06, 0.1, 0.06, 0, 0, 0, 0, 0,
  0, 0, 0, 0, 0, 0, 0, 0, 0, 0, 0, 0.12, 0.2,
  0.08, 0, 0, 0, 0, 0, 0, 0, 0.1, 0.18, 0.05, 0, 0
];
var precipMember23 = [
  null, 0, 0, 0, 0.05, 0, 0, 0, 0, 0, 0, 0.3, 0.45,
  0.12, 0, 0, 0.05, 0.08, 0, 0, 0, 0, 0, 0, 0, 0,
  0, 0, 0, 0.2, 0.08, 0, 0, 0, 0, 0.1, 0.06, 0, 0,
  0, 0, 0.04, 0.08, 0, 0, 0, 0, 0, 0, 0, 0, 0,
  0, 0, 0.12, 0.06, 0, 0, 0, 0, 0, 0, 0, 0.1, 0.04
];
var precipMember24 = [
  null, 0, 0, 0, 0.38, 0.06, 0, 0, 0.1, 0.3, 0.12, 0, 0.18,
  0.22, 0.06, 0, 0, 0, 0, 0, 0, 0, 0, 0, 0, 0,
  0, 0.08, 0.15, 0, 0, 0, 0, 0.12, 0.18, 0.06, 0, 0, 0,
  0, 0, 0, 0, 0, 0, 0.06, 0.1, 0.04, 0, 0, 0, 0,
  0, 0, 0, 0, 0.14, 0.06, 0, 0, 0, 0, 0, 0, 0
];
var precipMember25 = [
  null, 0, 0, 0, 0.07, 0, 0, 0, 0, 0, 0.06, 0.1, 0,
  0, 0, 0.16, 0.2, 0.06, 0, 0, 0, 0, 0, 0, 0, 0.06,
  0.1, 0, 0, 0, 0.15, 0.2, 0.05, 0, 0, 0, 0, 0, 0,
  0, 0, 0, 0, 0.08, 0.04, 0, 0, 0, 0, 0.1, 0.05, 0,
  0, 0, 0, 0, 0, 0, 0, 0.08, 0.12, 0.05, 0, 0, 0
];
var precipMember26 = [
  null, 0, 0, 0, 0.13, 0.05, 0, 0, 0, 0.09, 0, 0.35, 0.1,
  0, 0, 0, 0, 0, 0, 0, 0, 0, 0, 0, 0, 0,
  0, 0, 0.05, 0.12, 0.06, 0, 0, 0, 0, 0, 0, 0.1, 0.08,
  0, 0, 0, 0, 0, 0, 0, 0, 0, 0, 0, 0, 0,
  0, 0.1, 0.15, 0.05, 0, 0, 0, 0, 0, 0, 0.06, 0.02, 0
];

var tempMembers = [
  tempMember01, tempMember02, tempMember03, tempMember04, tempMember05,
  tempMember06, tempMember07, tempMember08, tempMember09, tempMember10,
  tempMember11, tempMember12, tempMember13, tempMember14, tempMember15,
  tempMember16, tempMember17, tempMember18, tempMember19, tempMember20,
  tempMember21, tempMember22, tempMember23, tempMember24, tempMember25, tempMember26
];
var precipMembers = [
  precipMember01, precipMember02, precipMember03, precipMember04, precipMember05,
  precipMember06, precipMember07, precipMember08, precipMember09, precipMember10,
  precipMember11, precipMember12, precipMember13, precipMember14, precipMember15,
  precipMember16, precipMember17, precipMember18, precipMember19, precipMember20,
  precipMember21, precipMember22, precipMember23, precipMember24, precipMember25, precipMember26
];

// turn a series into {x: hour, y: value} points
function toPoints(values, stepHours) {
  return values.map(function (v, i) {
    return { x: i * stepHours, y: v };
  });
}

var chartFont = '"Liberation Sans", Arial, Helvetica, sans-serif';
Chart.defaults.font.family = chartFont;
Chart.defaults.color = "#000";

// Thick black frame round the plot
var plotFrame = {
  id: "plotFrame",
  afterDatasetsDraw: function (chart) {
    var ctx = chart.ctx;
    var a = chart.chartArea;
    ctx.save();
    ctx.strokeStyle = "#000";
    ctx.lineWidth = 3;
    ctx.strokeRect(a.left, a.top, a.right - a.left, a.bottom - a.top);
    ctx.restore();
  },
};

var datasets = [];
tempMembers.forEach(function (m) {
  datasets.push({ data: toPoints(m, 6), yAxisID: "y", borderColor: "rgba(255,45,45,0.75)", borderWidth: 0.8, order: 9 });
});
precipMembers.forEach(function (m) {
  datasets.push({ data: toPoints(m, 6), yAxisID: "y1", borderColor: "#2fdc2f", borderWidth: 0.9, order: 8 });
});
datasets.push({ data: toPoints(precipControl, 6), yAxisID: "y1", borderColor: "#000000", borderWidth: 3, order: 7 });
datasets.push({ data: toPoints(precipMean, 6), yAxisID: "y1", borderColor: "#2244ff", borderWidth: 3.5, order: 6 });
datasets.push({ data: toPoints(tempControl, 6), yAxisID: "y", borderColor: "#000000", borderWidth: 3, order: 4 });
datasets.push({ data: toPoints(tempOperational, 3), yAxisID: "y", borderColor: "#8000d8", borderWidth: 3.5, order: 3 });
datasets.push({ data: toPoints(tempMean, 6), yAxisID: "y", borderColor: "#2244ff", borderWidth: 3.5, order: 2 });
datasets.push({ data: toPoints(tempClimo, 6), yAxisID: "y", borderColor: "#ee0080", borderWidth: 3.5, order: 1 });

var ctx = document.getElementById("plumeChart").getContext("2d");
var plumeChart = new Chart(ctx, {
  type: "line",
  data: { datasets: datasets },
  options: {
    responsive: false,
    animation: false,
    events: [],
    layout: { padding: { top: 109, left: 0, right: 0, bottom: 0 } },
    elements: {
      point: { radius: 0 },
      line: { tension: 0, fill: false, borderJoinStyle: "round" },
    },
    plugins: {
      legend: { display: false },
      tooltip: { enabled: false },
    },
    scales: {
      x: {
        type: "linear",
        min: 0,
        max: 384,
        afterBuildTicks: function (scale) {
          scale.ticks = xTickHours.map(function (h) { return { value: h }; });
        },
        afterFit: function (scale) { scale.height = 44; },
        ticks: {
          autoSkip: false,
          maxRotation: 0,
          padding: 2,
          font: { size: 15, lineHeight: 1.07 },
          callback: function (value, index) { return xTickLabels[index]; },
        },
        grid: { drawOnChartArea: false, drawTicks: true, tickLength: 6, tickColor: "#000", tickWidth: 1.5 },
        border: { display: false },
      },
      y: {
        position: "left",
        min: -30,
        max: 30,
        afterFit: function (scale) { scale.width = 93; },
        ticks: {
          stepSize: 5,
          padding: 4,
          font: { size: 14 },
          callback: function (value) { return String(value); },
        },
        grid: { color: "#b4b4b4", lineWidth: 1.5, tickLength: 6, tickColor: "#000", tickWidth: 1.5, tickBorderDash: [] },
        border: { display: false, dash: [2, 8] },
      },
      y1: {
        position: "right",
        min: 0,
        max: 2,
        afterFit: function (scale) { scale.width = 94; },
        ticks: {
          stepSize: 0.2,
          padding: 4,
          font: { size: 14 },
          callback: function (value) { return String(Math.round(value * 10) / 10); },
        },
        grid: { drawOnChartArea: false, tickLength: 6, tickColor: "#000", tickWidth: 1.5 },
        border: { display: false },
      },
    },
  },
  plugins: [plotFrame],
});
</script>
</body>
</html>
